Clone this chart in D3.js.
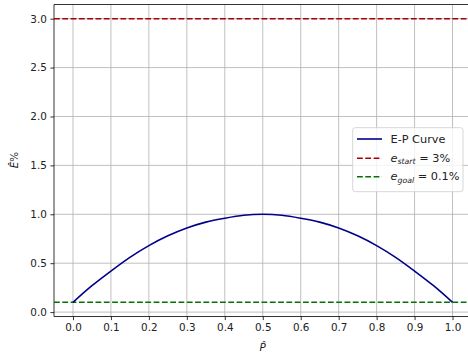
<!DOCTYPE html>
<html>
<head>
<meta charset="utf-8">
<script src="https://cdn.jsdelivr.net/npm/d3@7"></script>
<style>
  body { margin: 0; background: #fff; }
  svg { display: block; font-family: "DejaVu Sans", sans-serif; }
</style>
</head>
<body>
<div id="chart"></div>
<script>
// values
const pHat = [0, 0.05, 0.1, 0.15, 0.2, 0.25, 0.3, 0.35, 0.4, 0.45, 0.5,
              0.55, 0.6, 0.65, 0.7, 0.75, 0.8, 0.85, 0.9, 0.95, 1.0];
const eHat = [0.10, 0.27, 0.42, 0.56, 0.68, 0.78, 0.86, 0.92, 0.96, 0.99, 1.00,
              0.99, 0.96, 0.92, 0.86, 0.78, 0.68, 0.56, 0.42, 0.27, 0.10];
const eStart = 3.0;
const eGoal = 0.1;
const xTicks = [0, 0.1, 0.2, 0.3, 0.4, 0.5, 0.6, 0.7, 0.8, 0.9, 1.0];
const yTicks = [0, 0.5, 1.0, 1.5, 2.0, 2.5, 3.0];

const width = 468, height = 355;
const plotLeft = 54, plotRight = 471.5, plotTop = 4.5, plotBottom = 316.5;
const red = "#a80000", green = "#067006", navy = "#00008b";

const svg = d3.select("#chart").append("svg")
  .attr("width", width)
  .attr("height", height);

const x = d3.scaleLinear().domain([-0.05, 1.05]).range([plotLeft, plotRight]);
const y = d3.scaleLinear().domain([-0.045, 3.145]).range([plotBottom, plotTop]);

// grid
svg.append("g")
  .selectAll("line")
  .data(xTicks)
  .enter().append("line")
  .attr("x1", d => x(d)).attr("x2", d => x(d))
  .attr("y1", plotTop).attr("y2", plotBottom)
  .attr("stroke", "#b0b0b0").attr("stroke-width", 0.8);
svg.append("g")
  .selectAll("line")
  .data(yTicks)
  .enter().append("line")
  .attr("x1", plotLeft).attr("x2", plotRight)
  .attr("y1", d => y(d)).attr("y2", d => y(d))
  .attr("stroke", "#b0b0b0").attr("stroke-width", 0.8);

// axes
const xAxis = svg.append("g")
  .attr("transform", "translate(0," + plotBottom + ")")
  .call(d3.axisBottom(x).tickValues(xTicks).tickFormat(d3.format(".1f")).tickSize(3.6).tickPadding(3.6));
const yAxis = svg.append("g")
  .attr("transform", "translate(" + plotLeft + ",0)")
  .call(d3.axisLeft(y).tickValues(yTicks).tickFormat(d3.format(".1f")).tickSize(3.6).tickPadding(3.6));
[xAxis, yAxis].forEach(g => {
  g.select(".domain").remove();
  g.selectAll("line").attr("stroke", "#000").attr("stroke-width", 0.8);
  g.selectAll("text").attr("font-size", "10.4px").attr("fill", "#222")
    .attr("font-family", "DejaVu Sans, sans-serif");
});

// spines
svg.append("line").attr("x1", plotLeft).attr("x2", plotLeft).attr("y1", plotTop).attr("y2", plotBottom)
  .attr("stroke", "#000").attr("stroke-width", 0.8);
svg.append("line").attr("x1", plotLeft).attr("x2", plotRight).attr("y1", plotBottom).attr("y2", plotBottom)
  .attr("stroke", "#000").attr("stroke-width", 0.8);
svg.append("line").attr("x1", plotLeft).attr("x2", plotRight).attr("y1", plotTop).attr("y2", plotTop)
  .attr("stroke", "#000").attr("stroke-width", 0.8);

// horizontal reference lines
svg.append("line")
  .attr("x1", plotLeft).attr("x2", plotRight)
  .attr("y1", y(eStart)).attr("y2", y(eStart))
  .attr("stroke", red).attr("stroke-width", 1.6)
  .attr("stroke-dasharray", "5.8,2.5");
svg.append("line")
  .attr("x1", plotLeft).attr("x2", plotRight)
  .attr("y1", y(eGoal)).attr("y2", y(eGoal))
  .attr("stroke", green).attr("stroke-width", 1.6)
  .attr("stroke-dasharray", "5.8,2.5");

// E-P curve
const line = d3.line()
  .x((d, i) => x(pHat[i]))
  .y(d => y(d))
  .curve(d3.curveCatmullRom);
svg.append("path")
  .datum(eHat)
  .attr("d", line)
  .attr("fill", "none")
  .attr("stroke", navy)
  .attr("stroke-width", 1.6);

// axis labels
svg.append("text")
  .attr("x", x(0.5)).attr("y", 351)
  .attr("text-anchor", "middle")
  .attr("font-size", "10.4px")
  .attr("font-style", "italic")
  .attr("fill", "#222")
  .text("P\u0302");
const yl = svg.append("text")
  .attr("transform", "translate(18,160) rotate(-90)")
  .attr("text-anchor", "middle")
  .attr("font-size", "10.4px")
  .attr("fill", "#222");
yl.append("tspan").attr("font-style", "italic").text("E\u0302");
yl.append("tspan").text("%");

// legend
const lg = svg.append("g");
lg.append("rect")
  .attr("x", 352.7).attr("y", 127.7)
  .attr("width", 110.3).attr("height", 64)
  .attr("rx", 2.5)
  .attr("fill", "#fff").attr("fill-opacity", 0.8)
  .attr("stroke", "#cccccc").attr("stroke-width", 0.8);

const legendItems = [
  { color: navy, dash: null, yy: 139 },
  { color: red, dash: "5.8,2.5", yy: 158.3 },
  { color: green, dash: "5.8,2.5", yy: 176.7 }
];
legendItems.forEach(it => {
  const l = lg.append("line")
    .attr("x1", 357).attr("x2", 382)
    .attr("y1", it.yy).attr("y2", it.yy)
    .attr("stroke", it.color).attr("stroke-width", 1.6);
  if (it.dash) l.attr("stroke-dasharray", it.dash);
});

lg.append("text")
  .attr("x", 390.5).attr("y", 143.3)
  .attr("font-size", "11.3px").attr("fill", "#222")
  .text("E-P Curve");

function mathLabel(base, sub, rest) {
  const t = lg.append("text")
    .attr("x", 390.5).attr("y", base)
    .attr("font-size", "11.3px").attr("fill", "#222");
  t.append("tspan").attr("font-style", "italic").text("e");
  t.append("tspan").attr("font-style", "italic").attr("font-size", "7.8px")
    .attr("dy", 2.4).text(sub);
  t.append("tspan").attr("dy", -2.4).text(rest);
}
mathLabel(161.5, "start", " = 3%");
mathLabel(180.2, "goal", " = 0.1%");
</script>
</body>
</html>
